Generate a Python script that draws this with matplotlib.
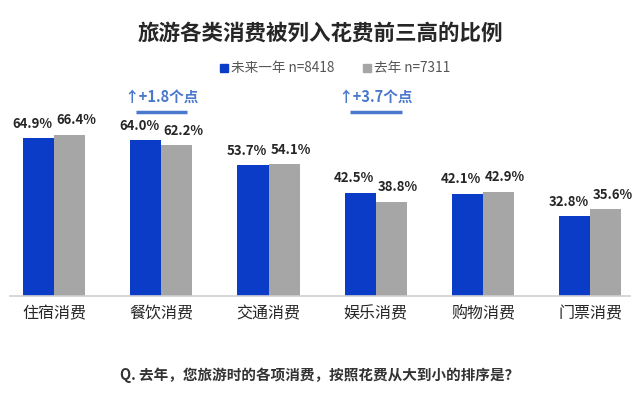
import numpy as np
import matplotlib
matplotlib.use("Agg")
import matplotlib.pyplot as plt
from matplotlib.patches import Rectangle

plt.rcParams['font.family'] = ['Noto Sans CJK SC', 'DejaVu Sans']

categories = ['住宿消费', '餐饮消费', '交通消费', '娱乐消费', '购物消费', '门票消费']
next_year = [64.9, 64.0, 53.7, 42.5, 42.1, 32.8]
last_year = [66.4, 62.2, 54.1, 38.8, 42.9, 35.6]
series_names = ['未来一年 ', '去年 ']
series_n = ['n=8418', 'n=7311']
notes = {1: '↑+1.8个点', 3: '↑+3.7个点'}

blue = '#0a3cc8'
grey = '#a6a6a6'
note_blue = '#4a78cc'
text_dark = '#262626'

fig = plt.figure(figsize=(6.4, 3.94), dpi=100)
ax = fig.add_axes([10 / 640, 98 / 394, 620 / 640, 211 / 394])

x = np.arange(len(categories))
w = 0.29
ax.bar(x - w / 2, next_year, w, color=blue)
ax.bar(x + w / 2, last_year, w, color=grey)

for i in x:
    ax.text(i - w / 2 - 0.06, next_year[i] + 3, f'{next_year[i]:.1f}%', ha='center', va='bottom',
            fontsize=9.5, fontweight='bold', color=text_dark)
    ax.text(i + w / 2 + 0.06, last_year[i] + 3, f'{last_year[i]:.1f}%', ha='center', va='bottom',
            fontsize=9.5, fontweight='bold', color=text_dark)

for i, txt in notes.items():
    ax.text(i, 78.5, txt, ha='center', va='bottom', fontsize=10.5, fontweight='bold', color=note_blue)
    ax.plot([i - 0.24, i + 0.24], [75.5, 75.5], color=note_blue, lw=2.5, solid_capstyle='butt')

ax.set_xlim(-0.41, 5.37)
ax.set_ylim(0, 86.8)
ax.set_xticks(x)
ax.set_xticklabels(categories, fontsize=11.5, color=text_dark)
ax.tick_params(axis='x', length=0, pad=7)
ax.set_yticks([])
for s in ['top', 'right', 'left']:
    ax.spines[s].set_visible(False)
ax.spines['bottom'].set_color('#d0d0d0')
ax.spines['bottom'].set_linewidth(1.2)

fig.text(0.5, 1 - 33 / 394, '旅游各类消费被列入花费前三高的比例', ha='center', va='center',
         fontsize=15.5, fontweight='bold', color=text_dark)

# legend row
ly = 1 - 68 / 394
fig.patches.append(Rectangle((220 / 640, ly - 4 / 394), 8 / 640, 8 / 394, color=blue,
                             transform=fig.transFigure))
fig.text(231 / 640, ly, series_names[0] + series_n[0], ha='left', va='center',
         fontsize=9.8, color='#555555')
fig.patches.append(Rectangle((363 / 640, ly - 4 / 394), 8 / 640, 8 / 394, color=grey,
                             transform=fig.transFigure))
fig.text(374 / 640, ly, series_names[1] + series_n[1], ha='left', va='center',
         fontsize=9.8, color='#555555')

fig.text(0.5, 1 - 375 / 394, 'Q. 去年，您旅游时的各项消费，按照花费从大到小的排序是？', ha='center', va='center',
         fontsize=10.5, fontweight='bold', color='#333333')

fig.savefig('out.png', dpi=100)
